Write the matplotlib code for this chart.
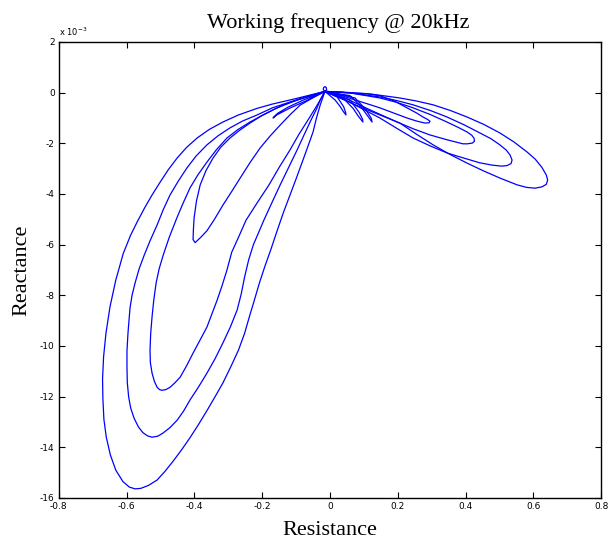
import matplotlib
matplotlib.use("Agg")
import matplotlib.pyplot as plt

plt.rcParams['axes.unicode_minus'] = False

# impedance loci at 20 kHz, reactance in units of 1e-3
# left-hand loops (negative resistance)
res_l1 = [-0.015, -0.055, -0.097, -0.135, -0.168, -0.203, -0.236, -0.266, -0.295, -0.322,
          -0.345, -0.366, -0.383, -0.394, -0.401, -0.403, -0.404, -0.398, -0.382, -0.363,
          -0.340, -0.316, -0.290, -0.265, -0.236, -0.206, -0.176, -0.147, -0.117, -0.088,
          -0.050, -0.015]
reac_l1 = [0.05, -0.13, -0.29, -0.47, -0.68, -0.92, -1.20, -1.48, -1.79, -2.15,
           -2.58, -3.08, -3.64, -4.28, -4.95, -5.40, -5.80, -5.92, -5.72, -5.45,
           -4.98, -4.44, -3.90, -3.37, -2.76, -2.18, -1.70, -1.28, -0.86, -0.49,
           -0.20, 0.05]

res_l2 = [-0.015, -0.045, -0.080, -0.118, -0.156, -0.196, -0.236, -0.272, -0.304, -0.335,
          -0.363, -0.390, -0.413, -0.433, -0.452, -0.474, -0.492, -0.504, -0.513, -0.520,
          -0.525, -0.529, -0.531, -0.530, -0.525, -0.518, -0.510, -0.503, -0.496, -0.484,
          -0.472, -0.458, -0.442, -0.423, -0.404, -0.384, -0.363, -0.348, -0.333, -0.318,
          -0.304, -0.290, -0.268, -0.248, -0.214, -0.180, -0.150, -0.118, -0.092, -0.065,
          -0.045, -0.029, -0.015]
reac_l2 = [0.05, -0.08, -0.21, -0.40, -0.60, -0.87, -1.16, -1.46, -1.79, -2.25,
           -2.74, -3.25, -3.76, -4.35, -4.95, -5.70, -6.41, -6.95, -7.51, -8.20,
           -8.85, -9.50, -10.16, -10.65, -11.07, -11.40, -11.63, -11.72, -11.75, -11.72,
           -11.63, -11.46, -11.23, -10.78, -10.28, -9.78, -9.25, -8.72, -8.19, -7.60,
           -7.00, -6.30, -5.65, -5.04, -4.33, -3.64, -2.95, -2.26, -1.65, -1.08,
           -0.65, -0.29, 0.05]

res_l3 = [-0.015, -0.060, -0.118, -0.170, -0.215, -0.258, -0.295, -0.330, -0.363, -0.395,
          -0.422, -0.448, -0.472, -0.492, -0.510, -0.530, -0.548, -0.563, -0.575, -0.584,
          -0.590, -0.596, -0.599, -0.599, -0.598, -0.594, -0.588, -0.578, -0.565, -0.552,
          -0.538, -0.525, -0.508, -0.493, -0.472, -0.451, -0.432, -0.413, -0.388, -0.363,
          -0.339, -0.316, -0.294, -0.274, -0.262, -0.252, -0.240, -0.226, -0.210, -0.195,
          -0.171, -0.147, -0.122, -0.097, -0.076, -0.056, -0.040, -0.029, -0.015]
reac_l3 = [0.05, -0.12, -0.37, -0.60, -0.88, -1.12, -1.39, -1.70, -2.06, -2.50,
           -2.97, -3.50, -4.04, -4.62, -5.22, -5.82, -6.41, -6.95, -7.51, -8.00,
           -8.50, -9.49, -10.20, -10.83, -11.45, -12.01, -12.45, -12.85, -13.20, -13.42,
           -13.55, -13.60, -13.56, -13.44, -13.22, -12.93, -12.57, -12.13, -11.62, -11.07,
           -10.50, -9.88, -9.25, -8.58, -7.95, -7.28, -6.60, -6.00, -5.50, -5.03,
           -4.33, -3.64, -2.95, -2.26, -1.65, -1.08, -0.65, -0.29, 0.05]

res_l4 = [-0.015, -0.060, -0.118, -0.170, -0.215, -0.270, -0.316, -0.356, -0.392, -0.423,
          -0.451, -0.477, -0.501, -0.525, -0.547, -0.568, -0.588, -0.610, -0.632, -0.649,
          -0.661, -0.668, -0.671, -0.670, -0.667, -0.660, -0.648, -0.632, -0.611, -0.592,
          -0.575, -0.558, -0.535, -0.510, -0.487, -0.463, -0.438, -0.413, -0.388, -0.363,
          -0.339, -0.316, -0.292, -0.270, -0.252, -0.238, -0.223, -0.208, -0.192, -0.175,
          -0.156, -0.138, -0.118, -0.100, -0.082, -0.066, -0.050, -0.040, -0.029, -0.015]
reac_l4 = [0.05, -0.10, -0.29, -0.45, -0.62, -0.88, -1.16, -1.45, -1.79, -2.16,
           -2.58, -3.04, -3.53, -4.04, -4.55, -5.08, -5.62, -6.35, -7.40, -8.45,
           -9.50, -10.43, -11.30, -12.10, -12.90, -13.60, -14.30, -14.90, -15.35, -15.57,
           -15.64, -15.62, -15.50, -15.29, -14.95, -14.55, -14.10, -13.62, -13.10, -12.55,
           -12.00, -11.46, -10.80, -10.16, -9.50, -8.85, -8.18, -7.50, -6.85, -6.21,
           -5.45, -4.75, -4.04, -3.40, -2.74, -2.15, -1.55, -1.00, -0.49, 0.05]

res_l0 = [-0.015, -0.080, -0.125, -0.155, -0.168, -0.160, -0.120, -0.070, -0.015]
reac_l0 = [0.05, -0.30, -0.58, -0.82, -1.00, -0.90, -0.62, -0.32, 0.05]

# right-hand loops (positive resistance)
res_r1 = [-0.015, 0.059, 0.105, 0.147, 0.190, 0.227, 0.255, 0.274, 0.288, 0.295,
          0.292, 0.280, 0.255, 0.227, 0.187, 0.147, 0.110, 0.074, 0.030, -0.015]
reac_r1 = [0.05, -0.01, -0.04, -0.12, -0.33, -0.60, -0.80, -0.96, -1.06, -1.13,
           -1.19, -1.20, -1.12, -1.00, -0.80, -0.60, -0.44, -0.29, -0.10, 0.05]

res_r2 = [-0.015, 0.059, 0.147, 0.196, 0.245, 0.295, 0.345, 0.378, 0.404, 0.418,
          0.425, 0.426, 0.420, 0.405, 0.392, 0.345, 0.295, 0.246, 0.198, 0.158,
          0.118, 0.080, 0.044, -0.015]
reac_r2 = [0.05, -0.01, -0.21, -0.38, -0.60, -0.86, -1.16, -1.37, -1.55, -1.68,
           -1.80, -1.92, -1.99, -2.02, -2.02, -1.86, -1.67, -1.43, -1.16, -0.92,
           -0.68, -0.44, -0.21, 0.05]

res_r3 = [-0.015, 0.059, 0.147, 0.196, 0.245, 0.295, 0.345, 0.394, 0.442, 0.475,
          0.501, 0.520, 0.531, 0.537, 0.534, 0.522, 0.506, 0.478, 0.442, 0.394,
          0.345, 0.295, 0.245, 0.196, 0.147, 0.110, 0.074, 0.024, -0.015]
reac_r3 = [0.05, -0.01, -0.17, -0.31, -0.48, -0.70, -0.96, -1.26, -1.59, -1.82,
           -2.06, -2.27, -2.46, -2.66, -2.80, -2.88, -2.90, -2.86, -2.77, -2.58,
           -2.38, -2.10, -1.79, -1.40, -1.00, -0.74, -0.49, -0.13, 0.05]

res_r4 = [-0.015, 0.029, 0.118, 0.206, 0.255, 0.304, 0.354, 0.404, 0.453, 0.501,
          0.543, 0.581, 0.605, 0.625, 0.638, 0.642, 0.638, 0.625, 0.605, 0.580,
          0.552, 0.501, 0.453, 0.404, 0.354, 0.304, 0.255, 0.206, 0.147, 0.088,
          0.029, -0.015]
reac_r4 = [0.05, 0.03, -0.05, -0.21, -0.33, -0.48, -0.70, -0.96, -1.25, -1.59,
           -1.95, -2.34, -2.62, -2.95, -3.25, -3.45, -3.62, -3.72, -3.77, -3.74,
           -3.64, -3.37, -3.09, -2.78, -2.44, -2.06, -1.64, -1.20, -0.88, -0.56,
           -0.21, 0.05]

# small loops close to the origin
res_s1 = [-0.015, 0.015, 0.030, 0.040, 0.047, 0.046, 0.040, 0.021, -0.015]
reac_s1 = [0.05, -0.29, -0.55, -0.76, -0.88, -0.78, -0.55, -0.17, 0.05]
res_s2 = [-0.015, 0.044, 0.068, 0.083, 0.097, 0.096, 0.086, 0.059, -0.015]
reac_s2 = [0.05, -0.29, -0.62, -0.92, -1.16, -1.05, -0.78, -0.29, 0.05]
res_s3 = [-0.015, 0.059, 0.088, 0.110, 0.124, 0.122, 0.105, 0.074, -0.015]
reac_s3 = [0.05, -0.12, -0.50, -0.90, -1.16, -1.02, -0.66, -0.21, 0.05]
res_s4 = [-0.015, -0.020, -0.019, -0.015, -0.011, -0.010, -0.015]
reac_s4 = [0.05, 0.12, 0.20, 0.24, 0.20, 0.12, 0.05]

loops = [(res_l0, reac_l0), (res_l1, reac_l1), (res_l2, reac_l2), (res_l3, reac_l3),
         (res_l4, reac_l4), (res_r1, reac_r1), (res_r2, reac_r2), (res_r3, reac_r3),
         (res_r4, reac_r4), (res_s1, reac_s1), (res_s2, reac_s2), (res_s3, reac_s3),
         (res_s4, reac_s4)]

xticks = [-0.8, -0.6, -0.4, -0.2, 0, 0.2, 0.4, 0.6, 0.8]
xtick_labels = ['-0.8', '-0.6', '-0.4', '-0.2', '0', '0.2', '0.4', '0.6', '0.8']
yticks = [-16, -14, -12, -10, -8, -6, -4, -2, 0, 2]

fig = plt.figure(figsize=(6.16, 5.41), dpi=100)
ax = fig.add_axes([0.0955, 0.0795, 0.8805, 0.8429])

for r, x in loops:
    ax.plot(r, x, color='#0000ff', linewidth=0.9)

ax.set_xlim(-0.8, 0.8)
ax.set_ylim(-16, 2)
ax.set_xticks(xticks)
ax.set_yticks(yticks)
ax.set_xticklabels(xtick_labels)
ax.set_yticklabels([str(v) for v in yticks])
ax.tick_params(direction='in', top=True, right=True, length=4, width=0.8,
               labelsize=6.5)
ax.tick_params(axis='x', pad=3)
ax.tick_params(axis='y', pad=3)
for s in ax.spines.values():
    s.set_linewidth(1.0)

ax.text(0.0, 1.008, r'x 10$^{-3}$', transform=ax.transAxes, fontsize=6,
        ha='left', va='bottom')

serif = ['Liberation Serif', 'DejaVu Serif']
ax.set_title('Working frequency @ 20kHz', family=serif, fontsize=16, pad=10, x=0.515)
ax.set_xlabel('Resistance', family=serif, fontsize=16, labelpad=7)
ax.set_ylabel('Reactance', family=serif, fontsize=16, labelpad=6)

fig.savefig('out.png', dpi=100)
